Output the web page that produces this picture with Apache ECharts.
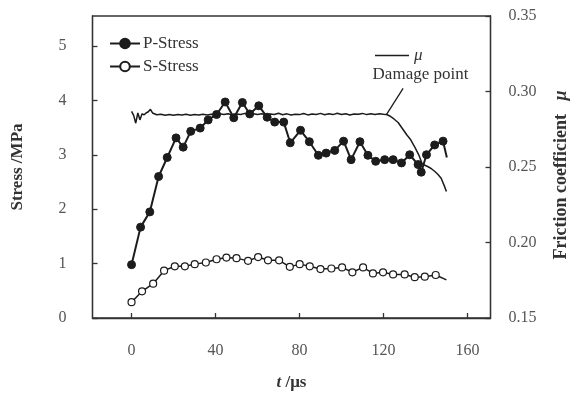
<!DOCTYPE html>
<html>
<head>
<meta charset="utf-8">
<script src="https://cdn.jsdelivr.net/npm/echarts@6/dist/echarts.min.js"></script>
<style>
  html, body { margin: 0; padding: 0; background: #fff; }
  #chart { width: 583px; height: 393px; }
</style>
</head>
<body>
<div id="chart"></div>
<script>
// P-Stress (filled circles), last sample has no marker
const pTime = [0, 4.3, 8.7, 12.9, 17, 21.2, 24.6, 28.2, 32.7, 36.5, 40.5, 44.6, 48.7, 52.8, 56.3, 60.6,
  64.6, 68.2, 72.5, 75.6, 80.5, 84.7, 89, 92.7, 96.8, 101, 104.6, 108.8, 112.6, 116.3, 120.6, 124.6,
  128.6, 132.5, 136.5, 138, 140.5, 144.4, 148.4, 150.2]
const pStress = [0.98, 1.67, 1.95, 2.6, 2.95, 3.31, 3.14, 3.43, 3.49, 3.64, 3.74, 3.97, 3.68, 3.96, 3.75, 3.9,
  3.69, 3.6, 3.6, 3.22, 3.45, 3.24, 2.99, 3.03, 3.08, 3.25, 2.91, 3.24, 2.99, 2.88, 2.91, 2.91,
  2.85, 3.0, 2.82, 2.68, 3.0, 3.18, 3.25, 2.95]

// S-Stress (open circles)
const sTime = [0, 5, 10.3, 15.5, 20.6, 25.4, 30.1, 35.4, 40.5, 45.2, 50, 55.5, 60.3, 65, 70.3, 75.4,
  80.1, 84.9, 90, 95.2, 100.3, 105.2, 110.3, 115, 119.8, 124.6, 130.1, 134.9, 139.7, 144.9, 150]
const sStress = [0.29, 0.49, 0.63, 0.87, 0.95, 0.95, 0.99, 1.02, 1.08, 1.11, 1.1, 1.05, 1.12, 1.06, 1.06, 0.94,
  0.99, 0.95, 0.9, 0.91, 0.93, 0.84, 0.93, 0.82, 0.84, 0.8, 0.8, 0.75, 0.76, 0.79, 0.7]

// friction coefficient mu (right axis)
const muTime = [0, 1, 2, 3, 4, 5, 6, 7, 8, 9, 10, 12, 14, 16, 18, 20, 22, 24, 26, 28, 30, 32, 34, 36, 38,
  40, 42, 44, 46, 48, 50, 52, 54, 56, 58, 60, 62, 64, 66, 68, 70, 72, 74, 76, 78, 80, 82, 84, 86, 88,
  90, 92, 94, 96, 98, 100, 102, 104, 106, 108, 110, 112, 114, 116, 118, 120, 121.5, 123, 125, 127,
  129, 131, 133, 135, 137, 138.5, 140, 141.5, 143, 144.5, 146, 147.5, 149, 150]
const muValue = [0.2868, 0.2842, 0.279, 0.2858, 0.2812, 0.2852, 0.2846, 0.2858, 0.2866, 0.2882, 0.2858,
  0.2846, 0.285, 0.2843, 0.2848, 0.2842, 0.2847, 0.2844, 0.2849, 0.2843, 0.2848, 0.2845, 0.285, 0.2844,
  0.2849, 0.2846, 0.2852, 0.2847, 0.2853, 0.2845, 0.2851, 0.2848, 0.2855, 0.2849, 0.2853, 0.2847,
  0.2852, 0.2846, 0.2851, 0.2848, 0.2856, 0.2846, 0.2852, 0.2844, 0.285, 0.2847, 0.2854, 0.2845,
  0.2851, 0.2848, 0.2855, 0.2846, 0.2852, 0.2847, 0.2856, 0.2848, 0.2852, 0.2845, 0.2851, 0.2849,
  0.2855, 0.2847, 0.2852, 0.2848, 0.2853, 0.285, 0.2848, 0.2838, 0.2818, 0.2795, 0.2755, 0.2715,
  0.268, 0.263, 0.2575, 0.252, 0.251, 0.25, 0.2487, 0.247, 0.245, 0.2425, 0.2375, 0.2338]

const damagePoint = [121.5, 0.2848]

const xTicks = [0, 40, 80, 120, 160]
const stressTicks = [0, 1, 2, 3, 4, 5]
const muTicks = [0.15, 0.2, 0.25, 0.3, 0.35]

const FONT = '"Liberation Serif", "DejaVu Serif", serif'
const INK = '#1c1c1c'
const AXIS = '#333'

function pairs(xs, ys, dropLastSymbol) {
  return xs.map((x, i) => {
    const item = { value: [x, ys[i]] }
    if (dropLastSymbol && i === xs.length - 1) item.symbol = 'none'
    return item
  })
}

const chart = echarts.init(document.getElementById('chart'), null, { renderer: 'canvas' })

const tickLabel = { fontFamily: FONT, fontSize: 16, color: '#555' }
const axisLine = { show: true, onZero: false, lineStyle: { color: AXIS, width: 1.3 } }
const tickStyle = { color: AXIS, width: 1.3 }
const italicRich = (size) => ({ i: { fontFamily: FONT, fontSize: size, fontWeight: 'bold', fontStyle: 'italic', color: '#333' } })

chart.setOption({
  animation: false,
  backgroundColor: '#fff',
  grid: {
    left: 92.5, right: 92.5, top: 16, bottom: 75,
    containLabel: false,
    outerBoundsMode: 'none',
    show: true, borderColor: AXIS, borderWidth: 1.3,
  },
  legend: [
    {
      data: ['P-Stress', 'S-Stress'],
      orient: 'vertical',
      left: 104, top: 30,
      itemWidth: 30, itemHeight: 12, itemGap: 6,
      textStyle: { fontFamily: FONT, fontSize: 17, color: '#333', padding: [0, 0, 0, -2] },
    },
    {
      data: ['μ'],
      left: 370, top: 42,
      icon: 'rect',
      itemWidth: 34, itemHeight: 1.6,
      textStyle: { fontFamily: FONT, fontSize: 17, fontStyle: 'italic', color: '#333' },
    },
  ],
  xAxis: {
    type: 'value',
    min: -18.6, max: 171,
    name: '{i|t} /μs',
    nameLocation: 'middle',
    nameGap: 56,
    nameTextStyle: { fontFamily: FONT, fontSize: 17, fontWeight: 'bold', color: '#333', rich: italicRich(17) },
    splitLine: { show: false },
    axisLine,
    axisTick: { inside: true, length: 5, customValues: xTicks, lineStyle: tickStyle },
    axisLabel: { ...tickLabel, margin: 25, customValues: xTicks },
  },
  yAxis: [
    {
      type: 'value',
      min: 0, max: 5.55,
      position: 'left',
      name: 'Stress /MPa',
      nameLocation: 'middle',
      nameGap: 66,
      nameRotate: 90,
      nameTextStyle: { fontFamily: FONT, fontSize: 17, fontWeight: 'bold', color: '#333' },
      splitLine: { show: false },
      axisLine,
      axisTick: { inside: true, length: 5, customValues: stressTicks, lineStyle: tickStyle },
      axisLabel: { ...tickLabel, margin: 26, customValues: stressTicks },
    },
    {
      type: 'value',
      min: 0.15, max: 0.35,
      position: 'right',
      name: 'Friction coefficient   {i|μ}',
      nameLocation: 'middle',
      nameGap: 62,
      nameRotate: 90,
      nameTextStyle: {
        fontFamily: FONT, fontSize: 18, fontWeight: 'bold', color: '#333',
        padding: [0, 16, 0, 0], rich: italicRich(18),
      },
      splitLine: { show: false },
      axisLine,
      axisTick: { inside: true, length: 5, customValues: muTicks, lineStyle: tickStyle },
      axisLabel: { ...tickLabel, margin: 18, customValues: muTicks, formatter: v => v.toFixed(2) },
    },
  ],
  series: [
    {
      name: 'μ',
      type: 'line',
      yAxisIndex: 1,
      data: pairs(muTime, muValue, false),
      symbol: 'none',
      lineStyle: { color: INK, width: 1.5 },
      itemStyle: { color: INK },
    },
    {
      name: 'P-Stress',
      type: 'line',
      data: pairs(pTime, pStress, true),
      symbol: 'circle',
      symbolSize: 8,
      lineStyle: { color: INK, width: 2 },
      itemStyle: { color: INK, borderColor: INK, borderWidth: 1 },
    },
    {
      name: 'S-Stress',
      type: 'line',
      data: pairs(sTime, sStress, true),
      symbol: 'circle',
      symbolSize: 7,
      lineStyle: { color: INK, width: 1.5 },
      itemStyle: { color: '#fff', borderColor: INK, borderWidth: 1.2 },
    },
  ],
})

// "Damage point" annotation anchored at the data point on the mu curve
const dp = chart.convertToPixel({ xAxisIndex: 0, yAxisIndex: 1 }, damagePoint)
chart.setOption({
  graphic: [
    {
      type: 'line',
      shape: { x1: dp[0] + 16.5, y1: dp[1] - 26, x2: dp[0], y2: dp[1] },
      style: { stroke: INK, lineWidth: 1.3 },
    },
    {
      type: 'text',
      left: dp[0] - 14,
      top: dp[1] - 48,
      style: { text: 'Damage point', fontFamily: FONT, fontSize: 17, fill: '#333' },
    },
  ],
})
</script>
</body>
</html>
